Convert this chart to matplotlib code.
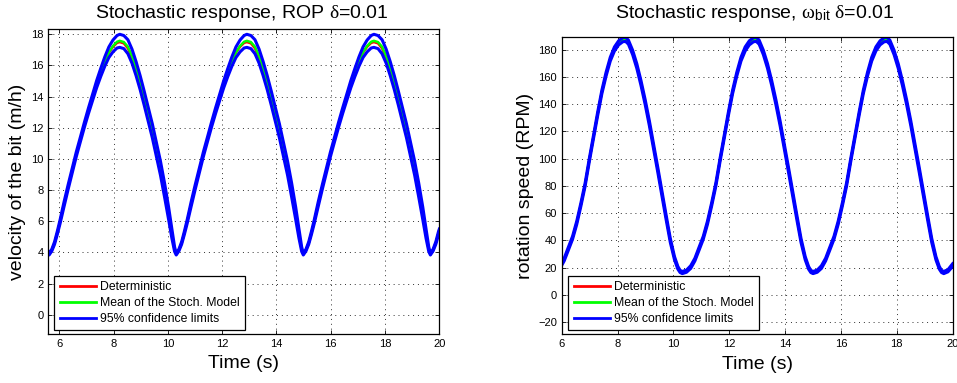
import matplotlib.pyplot as plt
import numpy as np

plt.rcParams['font.family'] = ['Liberation Sans', 'DejaVu Sans']
plt.rcParams['mathtext.fontset'] = 'custom'
plt.rcParams['mathtext.rm'] = 'Liberation Serif'
plt.rcParams['mathtext.sf'] = 'Liberation Sans'
plt.rcParams['mathtext.it'] = 'Liberation Serif:italic'

# ---- ROP (left) ----
t_rop = [5.60,
         5.63, 5.73, 5.83, 5.93, 6.03, 6.18, 6.33, 6.48, 6.63, 6.78, 6.93, 7.08, 7.23, 7.38, 7.53, 7.68, 7.83,
         7.98, 8.13, 8.23, 8.38, 8.53, 8.68, 8.83, 8.98, 9.13, 9.28, 9.43, 9.58, 9.73, 9.88, 10.03, 10.15, 10.25,
         10.31, 10.41, 10.51, 10.61, 10.71, 10.86, 11.01, 11.16, 11.31, 11.46, 11.61, 11.76, 11.91, 12.06, 12.21,
         12.36, 12.51, 12.66, 12.81, 12.91, 13.06, 13.21, 13.36, 13.51, 13.66, 13.81, 13.96, 14.11, 14.26, 14.41,
         14.56, 14.71, 14.83, 14.93,
         14.99, 15.09, 15.19, 15.29, 15.39, 15.54, 15.69, 15.84, 15.99, 16.14, 16.29, 16.44, 16.59, 16.74, 16.89,
         17.04, 17.19, 17.34, 17.49, 17.59, 17.74, 17.89, 18.04, 18.19, 18.34, 18.49, 18.64, 18.79, 18.94, 19.09,
         19.24, 19.39, 19.51, 19.61,
         19.67, 19.77, 19.87, 19.97, 20.00]

rop_mean = [4.0,
            3.88, 4.15, 4.6, 5.25, 5.95, 7.1, 8.2, 9.25, 10.3, 11.25, 12.2, 13.1, 13.95, 14.8, 15.55, 16.25, 16.85,
            17.25, 17.52, 17.58, 17.5, 17.2, 16.6, 15.8, 14.9, 13.9, 12.85, 11.8, 10.6, 9.4, 8.0, 6.5, 5.2, 4.2,
            3.88, 4.15, 4.6, 5.25, 5.95, 7.1, 8.2, 9.25, 10.3, 11.25, 12.2, 13.1, 13.95, 14.8, 15.55, 16.25, 16.85,
            17.25, 17.52, 17.58, 17.5, 17.2, 16.6, 15.8, 14.9, 13.9, 12.85, 11.8, 10.6, 9.4, 8.0, 6.5, 5.2, 4.2,
            3.88, 4.15, 4.6, 5.25, 5.95, 7.1, 8.2, 9.25, 10.3, 11.25, 12.2, 13.1, 13.95, 14.8, 15.55, 16.25, 16.85,
            17.25, 17.52, 17.58, 17.5, 17.2, 16.6, 15.8, 14.9, 13.9, 12.85, 11.8, 10.6, 9.4, 8.0, 6.5, 5.2, 4.2,
            3.88, 4.15, 4.6, 5.25, 5.4]

rop_det = [4.0,
           3.88, 4.15, 4.6, 5.25, 5.95, 7.1, 8.2, 9.25, 10.3, 11.25, 12.2, 13.1, 13.95, 14.8, 15.55, 16.25, 16.82,
           17.2, 17.45, 17.5, 17.42, 17.1, 16.5, 15.7, 14.8, 13.8, 12.75, 11.7, 10.5, 9.3, 7.9, 6.4, 5.1, 4.15,
           3.88, 4.15, 4.6, 5.25, 5.95, 7.1, 8.2, 9.25, 10.3, 11.25, 12.2, 13.1, 13.95, 14.8, 15.55, 16.25, 16.82,
           17.2, 17.45, 17.5, 17.42, 17.1, 16.5, 15.7, 14.8, 13.8, 12.75, 11.7, 10.5, 9.3, 7.9, 6.4, 5.1, 4.15,
           3.88, 4.15, 4.6, 5.25, 5.95, 7.1, 8.2, 9.25, 10.3, 11.25, 12.2, 13.1, 13.95, 14.8, 15.55, 16.25, 16.82,
           17.2, 17.45, 17.5, 17.42, 17.1, 16.5, 15.7, 14.8, 13.8, 12.75, 11.7, 10.5, 9.3, 7.9, 6.4, 5.1, 4.15,
           3.88, 4.15, 4.6, 5.25, 5.4]

# half width of the 95% band
rop_half = [0.05,
            0.05, 0.06, 0.08, 0.1, 0.12, 0.15, 0.15, 0.15, 0.15, 0.15, 0.16, 0.18, 0.2, 0.23, 0.26, 0.3, 0.34,
            0.38, 0.4, 0.42, 0.42, 0.45, 0.45, 0.45, 0.45, 0.45, 0.45, 0.45, 0.45, 0.45, 0.45, 0.4, 0.3, 0.15,
            0.05, 0.06, 0.08, 0.1, 0.12, 0.15, 0.15, 0.15, 0.15, 0.15, 0.16, 0.18, 0.2, 0.23, 0.26, 0.3, 0.34,
            0.38, 0.4, 0.42, 0.42, 0.45, 0.45, 0.45, 0.45, 0.45, 0.45, 0.45, 0.45, 0.45, 0.45, 0.4, 0.3, 0.15,
            0.05, 0.06, 0.08, 0.1, 0.12, 0.15, 0.15, 0.15, 0.15, 0.15, 0.16, 0.18, 0.2, 0.23, 0.26, 0.3, 0.34,
            0.38, 0.4, 0.42, 0.42, 0.45, 0.45, 0.45, 0.45, 0.45, 0.45, 0.45, 0.45, 0.45, 0.45, 0.4, 0.3, 0.15,
            0.05, 0.06, 0.08, 0.1, 0.1]

# ---- omega_bit (right) ----
t_om = [5.64, 5.79, 5.94, 6.09, 6.24, 6.39, 6.54, 6.69, 6.84, 6.99, 7.14, 7.29, 7.44, 7.59, 7.74, 7.89, 8.04,
        8.19, 8.29, 8.39, 8.54, 8.69, 8.84, 8.99, 9.14, 9.29, 9.44, 9.59, 9.74, 9.89, 10.04, 10.16, 10.24,
        10.32, 10.47, 10.62, 10.77, 10.92, 11.07, 11.22, 11.37, 11.52, 11.67, 11.82, 11.97, 12.12, 12.27, 12.42,
        12.57, 12.72, 12.87, 12.97, 13.07, 13.22, 13.37, 13.52, 13.67, 13.82, 13.97, 14.12, 14.27, 14.42, 14.57,
        14.72, 14.84, 14.92,
        15.00, 15.15, 15.30, 15.45, 15.60, 15.75, 15.90, 16.05, 16.20, 16.35, 16.50, 16.65, 16.80, 16.95, 17.10,
        17.25, 17.40, 17.55, 17.65, 17.75, 17.90, 18.05, 18.20, 18.35, 18.50, 18.65, 18.80, 18.95, 19.10, 19.25,
        19.40, 19.52, 19.60,
        19.68, 19.83, 20.00]

om_mean = [16.5, 17.5, 20.5, 26, 34, 42, 53, 66.5, 81, 99, 116, 133, 149, 162, 173, 180.5, 185,
           187.3, 187.5, 185.5, 178, 168, 155.5, 141.5, 126, 109, 92, 74.5, 57, 40, 27, 20, 17.3,
           16.5, 17.5, 20.5, 26, 34, 42, 53, 66.5, 81, 99, 116, 133, 149, 162, 173, 180.5, 185,
           187.3, 187.5, 185.5, 178, 168, 155.5, 141.5, 126, 109, 92, 74.5, 57, 40, 27, 20, 17.3,
           16.5, 17.5, 20.5, 26, 34, 42, 53, 66.5, 81, 99, 116, 133, 149, 162, 173, 180.5, 185,
           187.3, 187.5, 185.5, 178, 168, 155.5, 141.5, 126, 109, 92, 74.5, 57, 40, 27, 20, 17.3,
           16.5, 17.8, 22]

om_det = [16.5, 17.5, 20.5, 26, 34, 42, 53, 66.5, 81, 99, 116, 133, 149, 162, 173, 180.5, 184.5,
          186.7, 187, 185, 178, 168, 155.5, 141.5, 126, 109, 92, 74.5, 57, 40, 27, 20, 17.3,
          16.5, 17.5, 20.5, 26, 34, 42, 53, 66.5, 81, 99, 116, 133, 149, 162, 173, 180.5, 184.5,
          186.7, 187, 185, 178, 168, 155.5, 141.5, 126, 109, 92, 74.5, 57, 40, 27, 20, 17.3,
          16.5, 17.5, 20.5, 26, 34, 42, 53, 66.5, 81, 99, 116, 133, 149, 162, 173, 180.5, 184.5,
          186.7, 187, 185, 178, 168, 155.5, 141.5, 126, 109, 92, 74.5, 57, 40, 27, 20, 17.3,
          16.5, 17.8, 22]

om_half = [0.8, 0.8, 1.0, 1.0, 1.1, 1.1, 1.2, 1.2, 1.2, 1.2, 1.2, 1.3, 1.3, 1.4, 1.4, 1.5, 1.5,
           1.5, 1.5, 1.5, 1.6, 1.7, 1.8, 1.8, 1.8, 1.8, 1.8, 1.8, 1.7, 1.5, 1.2, 1.0, 0.8,
           0.8, 0.8, 1.0, 1.0, 1.1, 1.1, 1.2, 1.2, 1.2, 1.2, 1.2, 1.3, 1.3, 1.4, 1.4, 1.5, 1.5,
           1.5, 1.5, 1.5, 1.6, 1.7, 1.8, 1.8, 1.8, 1.8, 1.8, 1.8, 1.7, 1.5, 1.2, 1.0, 0.8,
           0.8, 0.8, 1.0, 1.0, 1.1, 1.1, 1.2, 1.2, 1.2, 1.2, 1.2, 1.3, 1.3, 1.4, 1.4, 1.5, 1.5,
           1.5, 1.5, 1.5, 1.6, 1.7, 1.8, 1.8, 1.8, 1.8, 1.8, 1.8, 1.7, 1.5, 1.2, 1.0, 0.8,
           0.8, 0.8, 1.0]

legend_labels = ['Deterministic', 'Mean of the Stoch. Model', '95% confidence limits']


def draw(ax, t, det, mean, half):
    t = np.array(t)
    mean = np.array(mean)
    half = np.array(half)
    l1, = ax.plot(t, det, color='#ff0000', lw=1.8)
    l2, = ax.plot(t, mean, color='#00ff00', lw=1.8)
    l3, = ax.plot(t, mean + half, color='#0000ff', lw=2.2)
    ax.plot(t, mean - half, color='#0000ff', lw=2.2)
    return [l1, l2, l3]


def style(ax):
    ax.tick_params(direction='in', top=True, right=True, labelsize=8, length=3, width=0.6)
    ax.grid(True, color='#303030', ls=(0, (1, 4)), lw=0.7)
    for s in ax.spines.values():
        s.set_linewidth(0.9)


fig = plt.figure(figsize=(9.57, 3.83), dpi=100)
ax1 = fig.add_axes([0.0505, 0.1272, 0.4086, 0.7963])
ax2 = fig.add_axes([0.5869, 0.1272, 0.4086, 0.777])

h1 = draw(ax1, t_rop, rop_det, rop_mean, rop_half)
ax1.set_xlim(5.6, 20)
ax1.set_ylim(-1.26, 18.32)
ax1.set_xticks(np.arange(6, 21, 2))
ax1.set_yticks(np.arange(0, 19, 2))
style(ax1)
ax1.set_xlabel('Time (s)', fontsize=14)
ax1.set_ylabel('velocity of the bit (m/h)', fontsize=14)
ax1.xaxis.set_label_coords(0.5, -0.068)
ax1.yaxis.set_label_coords(-0.056, 0.5)

h2 = draw(ax2, t_om, om_det, om_mean, om_half)
ax2.set_xlim(6, 20)
ax2.set_ylim(-28.8, 189.5)
ax2.set_xticks(np.arange(6, 21, 2))
ax2.set_yticks(np.arange(-20, 181, 20))
style(ax2)
ax2.set_xlabel('Time (s)', fontsize=14)
ax2.set_ylabel('rotation speed (RPM)', fontsize=14)
ax2.xaxis.set_label_coords(0.5, -0.072)
ax2.yaxis.set_label_coords(-0.071, 0.5)

for ax, h, anchor in [(ax1, h1, (0.0153, 0.0131)), (ax2, h2, (0.0169, 0.0134))]:
    leg = ax.legend(h, legend_labels, loc='lower left', bbox_to_anchor=anchor, borderaxespad=0,
                    fontsize=8.8, handlelength=3.0, handletextpad=0.28, borderpad=0.45,
                    labelspacing=0.3, fancybox=False, framealpha=1)
    leg.get_frame().set_edgecolor('black')
    leg.get_frame().set_linewidth(0.9)
    for line in leg.get_lines():
        line.set_linewidth(2)

fig.text(241.7 / 957, 1 - 17.5 / 383, r'Stochastic response, ROP $\mathrm{\delta}$=0.01', fontsize=14,
         ha='center', va='baseline')
fig.text(755 / 957, 1 - 17.5 / 383, r'Stochastic response, $\mathrm{\omega}_{\mathsf{bit}}$ $\mathrm{\delta}$=0.01',
         fontsize=14, ha='center', va='baseline')

fig.savefig('out.png', dpi=100)
